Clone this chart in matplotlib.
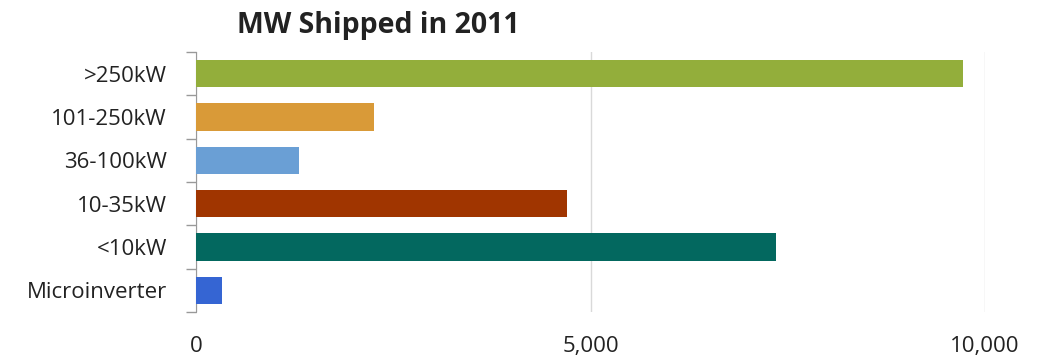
import matplotlib
matplotlib.use('Agg')
import matplotlib.pyplot as plt
import numpy as np

plt.rcParams['font.family'] = ['Open Sans', 'DejaVu Sans']

# data (top to bottom in the picture)
categories = ['>250kW', '101-250kW', '36-100kW', '10-35kW', '<10kW', 'Microinverter']
mw_shipped = [9720, 2250, 1300, 4700, 7350, 330]
bar_colors = ['#93AE3B', '#D99A38', '#6A9FD5', '#A03500', '#03685F', '#3565D3']
xticks = [0, 5000, 10000]
xtick_labels = ['0', '5,000', '10,000']

fig = plt.figure(figsize=(10.47, 3.62), dpi=100)
ax = fig.add_axes([196/1047, 1 - 312/362, (985-196)/1047, (312-52)/362])

ind = np.arange(len(categories))[::-1]
ax.barh(ind, mw_shipped, height=0.63, color=bar_colors, zorder=3)

ax.set_xlim(0, 10000)
ax.set_ylim(-0.5, len(categories) - 0.5)
ax.set_xticks(xticks)
ax.set_xticklabels(xtick_labels, fontsize=16, color='#222222')
ax.set_yticks(ind)
ax.set_yticklabels(categories, fontsize=16, color='#222222')

# excel style: ticks between categories
ax.set_yticks(np.arange(-0.5, len(categories), 1.0), minor=True)
ax.tick_params(axis='y', which='major', length=0, pad=21)
ax.tick_params(axis='y', which='minor', length=7, color='#999999', width=1)
ax.tick_params(axis='x', length=0, pad=17)

ax.grid(axis='x', color='#d9d9d9', lw=1, zorder=0)
for s in ['top', 'right', 'bottom']:
    ax.spines[s].set_visible(False)
ax.spines['left'].set_color('#999999')

fig.text(378/1047, 1 - 25/362, 'MW Shipped in 2011', ha='center', va='center',
         fontsize=20.5, fontweight='bold', color='#222222')

fig.savefig('out.png', dpi=100)
